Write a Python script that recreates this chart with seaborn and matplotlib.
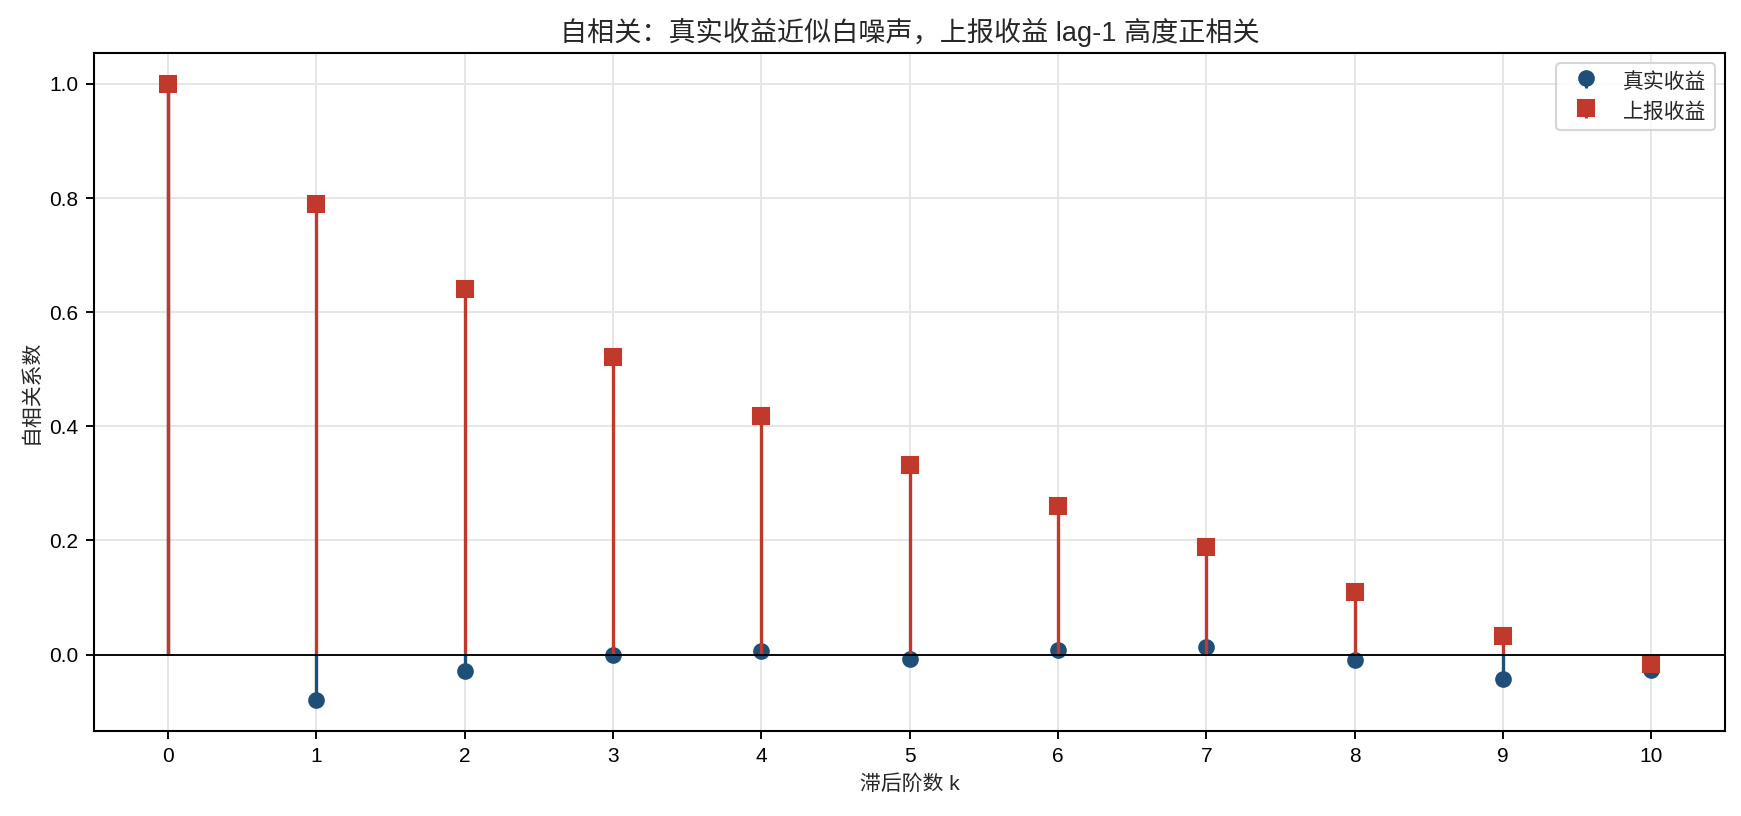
import matplotlib
matplotlib.use("Agg")
import matplotlib.pyplot as plt
import seaborn as sns

# autocorrelation values
lags = list(range(11))
acf_true = [1.0, -0.080, -0.029, -0.001, 0.006, -0.008, 0.009, 0.013, -0.010, -0.043, -0.027]
acf_reported = [1.0, 0.790, 0.640, 0.521, 0.418, 0.333, 0.261, 0.189, 0.109, 0.033, -0.016]

blue = "#1f4e79"
red = "#c0392b"

sns.set_theme(style="ticks")
plt.rcParams['font.family'] = ['Liberation Sans', 'Noto Sans CJK SC', 'DejaVu Sans']
plt.rcParams['axes.unicode_minus'] = False

fig, ax = plt.subplots(figsize=(1741 / 150, 816 / 150), dpi=150)

m1, s1, b1 = ax.stem(lags, acf_true, linefmt="-", markerfmt="o", basefmt=" ", label="真实收益")
plt.setp(s1, color=blue, linewidth=1.6)
plt.setp(m1, color=blue, markersize=7)

m2, s2, b2 = ax.stem(lags, acf_reported, linefmt="-", markerfmt="s", basefmt=" ", label="上报收益")
plt.setp(s2, color=red, linewidth=1.6)
plt.setp(m2, color=red, markersize=7.6)

ax.axhline(0, color="black", linewidth=0.9)

ax.set_xticks(lags)
ax.set_xlim(-0.5, 10.5)
ax.grid(True, color="#e5e5e5", linewidth=0.9)
ax.set_axisbelow(True)
for sp in ax.spines.values():
    sp.set_color("black")
    sp.set_linewidth(1.0)
ax.tick_params(labelsize=10, colors="black", length=4, width=0.9)

ax.set_title("自相关：真实收益近似白噪声，上报收益 lag-1 高度正相关", fontsize=13)
ax.set_xlabel("滞后阶数 k", fontsize=10)
ax.set_ylabel("自相关系数", fontsize=10)
ax.legend(loc="upper right", fontsize=10, frameon=True, edgecolor="#cccccc")

plt.subplots_adjust(left=0.054, right=0.991, top=0.935, bottom=0.104)
plt.savefig("out.png", dpi=150)
